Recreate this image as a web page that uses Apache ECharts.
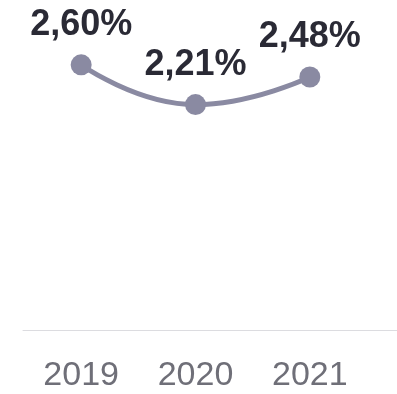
<!DOCTYPE html>
<html><head><meta charset="utf-8">
<script src="https://cdn.jsdelivr.net/npm/echarts@6/dist/echarts.min.js"></script>
<style>html,body{margin:0;padding:0;background:#fff}#c{width:397px;height:394px}</style>
</head><body><div id="c"></div>
<script>
const categories = ['2019', '2020', '2021'];
const values = [2.60, 2.21, 2.48];
const labels = ['2,60%', '2,21%', '2,48%'];

const chart = echarts.init(document.getElementById('c'));
chart.setOption({
  animation: false,
  grid: [
    {left: 24, right: 30, top: 24, bottom: 64},
    {left: 23, right: 0, top: 24, bottom: 64}
  ],
  xAxis: [
    {type: 'category', gridIndex: 0, data: categories, boundaryGap: true,
     axisLine: {show: false}, axisTick: {show: false},
     axisLabel: {fontFamily: 'Liberation Sans', fontSize: 34, color: '#6f6f78', margin: 29}},
    {type: 'category', gridIndex: 1, data: categories,
     axisLine: {show: true, lineStyle: {color: '#dcdce0', width: 1}},
     axisTick: {show: false}, axisLabel: {show: false}}
  ],
  yAxis: [
    {type: 'value', gridIndex: 0, min: 0, max: 3, show: false, splitLine: {show: false}},
    {type: 'value', gridIndex: 1, min: 0, max: 3, show: false, splitLine: {show: false}}
  ],
  series: [{
    type: 'line', xAxisIndex: 0, yAxisIndex: 0,
    data: values, smooth: true,
    symbol: 'circle', symbolSize: 21,
    lineStyle: {color: '#8a8aa2', width: 5},
    itemStyle: {color: '#8a8aa2'},
    label: {show: true, position: 'top', distance: 11,
      formatter: p => labels[p.dataIndex],
      fontFamily: 'Liberation Sans', fontWeight: 'bold', fontSize: 36, color: '#2a2a35'}
  }]
});
</script></body></html>
